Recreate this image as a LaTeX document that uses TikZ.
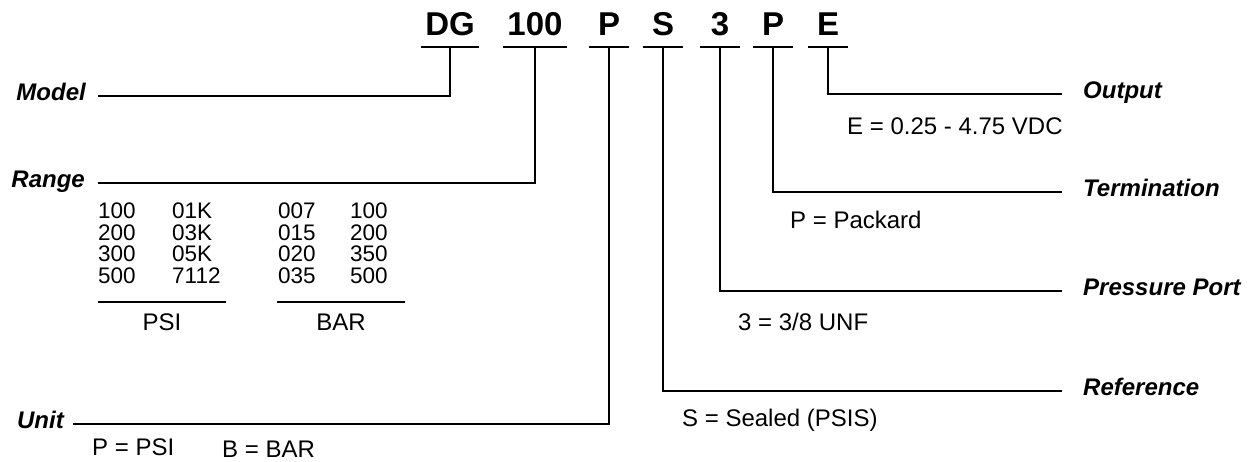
\documentclass[tikz,border=0pt]{standalone}
\usepackage{fontspec}
\setmainfont{Liberation Sans}

\tikzset{
  code/.style={font=\fontsize{33}{35}\selectfont\bfseries, anchor=base,
    inner xsep=0pt, inner ysep=12pt, text depth=0pt, minimum width=#1},
  lbl/.style={font=\fontsize{24}{26}\selectfont\bfseries\itshape, inner sep=0pt},
  txt/.style={font=\fontsize{24}{26}\selectfont, inner sep=0pt, anchor=base west},
  cell/.style={font=\fontsize{22.5}{24}\selectfont, inner sep=0pt, anchor=base west},
  lead/.style={line width=2.2pt},
  rule/.style={line width=1.3pt}
}

\begin{document}
\begin{tikzpicture}[x=1pt, y=-1pt]
  \useasboundingbox (0,0) rectangle (1248,461);

  \node[code=58] (dg) at (450,35) {DG};
  \node[code=63] (rg) at (535,35) {100};
  \node[code=39] (un) at (609,35) {P};
  \node[code=40] (rf) at (663,35) {S};
  \node[code=40] (pp) at (720,35) {3};
  \node[code=39] (tm) at (773,35) {P};
  \node[code=39] (op) at (828,35) {E};
  \foreach \c in {dg,rg,un,rf,pp,tm,op} \draw[lead] (\c.south west) -- (\c.south east);

  \coordinate (model-in) at (98,96);
  \coordinate (range-in) at (98,183);
  \coordinate (unit-in) at (73,424);
  \coordinate (output-in) at (1062,94);
  \coordinate (term-in) at (1062,192);
  \coordinate (port-in) at (1062,291);
  \coordinate (ref-in) at (1062,391);

  \node[lbl, anchor=base east] (model) at (86,100) {Model};
  \node[lbl, anchor=base east] (range) at (85,187) {Range};
  \node[lbl, anchor=base east] (unit) at (64,428) {Unit};
  \node[lbl, anchor=base west] (output) at (1083,98) {Output};
  \node[lbl, anchor=base west] (termination) at (1083,196) {Termination};
  \node[lbl, anchor=base west] (port) at (1083,295) {Pressure Port};
  \node[lbl, anchor=base west] (reference) at (1083,395) {Reference};

  \draw[lead] (dg.south) |- (model-in);
  \draw[lead] (rg.south) |- (range-in);
  \draw[lead] (un.south) |- (unit-in);
  \draw[lead] (op.south) |- (output-in);
  \draw[lead] (tm.south) |- (term-in);
  \draw[lead] (pp.south) |- (port-in);
  \draw[lead] (rf.south) |- (ref-in);

  \node[txt] (out-e) at (847,134) {E = 0.25 - 4.75 VDC};
  \node[txt] (term-p) at (790,228) {P = Packard};
  \node[txt] (port-3) at (738,330) {3 = 3/8 UNF};
  \node[txt] (ref-s) at (682,426) {S = Sealed (PSIS)};
  \node[txt] (unit-p) at (92,455) {P = PSI};
  \node[txt] (unit-b) at (222,457) {B = BAR};

  \foreach \a/\b/\c/\d [count=\i] in {100/01K/007/100, 200/03K/015/200, 300/05K/020/350, 500/7112/035/500} {
    \node[cell] (psi-a\i) at (98,197+21.5*\i) {\a};
    \node[cell] (psi-b\i) at (172,197+21.5*\i) {\b};
    \node[cell] (bar-a\i) at (278,197+21.5*\i) {\c};
    \node[cell] (bar-b\i) at (350,197+21.5*\i) {\d};
  }
  \draw[rule] (98,302) -- (226,302);
  \draw[rule] (277,302) -- (405,302);
  \node[txt, anchor=base] (psi) at (162,330) {PSI};
  \node[txt, anchor=base] (bar) at (341,330) {BAR};
\end{tikzpicture}
\end{document}
